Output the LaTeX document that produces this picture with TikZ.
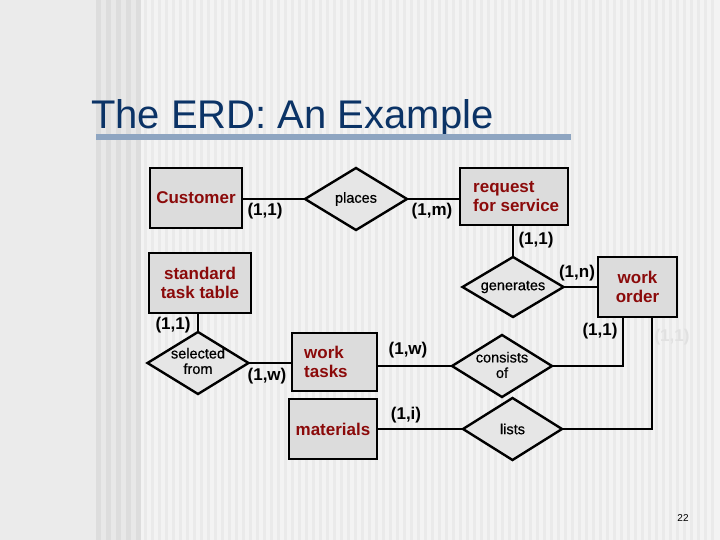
\documentclass[tikz,border=0pt]{standalone}
\usepackage{fontspec}
\setmainfont{Liberation Sans}
\newfontfamily\relfont{Liberation Sans}[FakeBold=0.6]
\usetikzlibrary{shapes.geometric}
\definecolor{bgleft}{HTML}{EBEBEB}
\definecolor{stripebase}{HTML}{F3F3F3}
\definecolor{stripefine}{HTML}{EAEAEA}
\definecolor{stripedark}{HTML}{DDDDDD}
\definecolor{stripemid}{HTML}{E8E8E8}
\definecolor{titleblue}{HTML}{0B3366}
\definecolor{titlebar}{HTML}{8EA5C1}
\definecolor{entfill}{HTML}{DCDCDC}
\definecolor{relfill}{HTML}{E6E6E6}
\definecolor{entred}{HTML}{8B0A0A}
\definecolor{ghost}{HTML}{E1E1E1}
\tikzset{
  entity/.style={draw=black, line width=2.4pt, fill=entfill, inner sep=0pt, outer sep=0pt,
    font=\fontsize{17}{19}\selectfont\bfseries, text=entred, align=center},
  entlabel/.style={font=\fontsize{17}{19}\selectfont\bfseries, text=entred, align=left, inner sep=0pt},
  rel/.style={diamond, draw=black, line width=2.4pt, fill=relfill, inner sep=0pt, outer sep=0pt},
  rellabel/.style={font=\relfont\fontsize{14.5}{15.5}\selectfont, align=center, inner sep=0pt},
  card/.style={font=\fontsize{17}{19}\selectfont\bfseries, inner sep=0pt},
  conn/.style={line width=2.4pt, line cap=rect}
}
\begin{document}
\begin{tikzpicture}[x=1pt,y=-1pt]
\useasboundingbox (0,0) rectangle (720,540);
% background
\fill[bgleft] (0,0) rectangle (720,540);
\fill[stripebase] (96,0) rectangle (720,540);
\fill[stripemid] (96,0) rectangle (141,540);
\foreach \x in {96,106,116,126,136} \fill[stripedark] (\x,0) rectangle ++(5,540);
\foreach \x in {144,151,...,716} \fill[stripefine] (\x,0) rectangle ++(3,540);
% title
\node[anchor=base west, inner sep=0pt, text=titleblue, font=\fontsize{40}{42}\selectfont] (title) at (91,129) {The ERD: An Example};
\fill[titlebar] (96,134) rectangle (571,140);
% entities
\node[entity, minimum width=92pt, minimum height=60pt] (cust) at (196,198) {Customer};
\node[entity, minimum width=108pt, minimum height=57pt,
  label={[entlabel, anchor=west, xshift=13pt]west:request\\for service}] (req) at (514,196.5) {};
\node[entity, minimum width=79pt, minimum height=60pt] (wo) at (637.5,287) {work\\order};
\node[entity, minimum width=102pt, minimum height=60pt] (std) at (200,283) {standard\\task table};
\node[entity, minimum width=85pt, minimum height=58pt,
  label={[entlabel, anchor=west, xshift=12pt]west:work\\tasks}] (wt) at (334.5,362) {};
\node[entity, minimum width=88pt, minimum height=60pt] (mat) at (333,429) {materials};
% relationships
\node[rel, minimum width=102pt, minimum height=62pt, label={[rellabel]center:places}] (places) at (356,199) {};
\node[rel, minimum width=101pt, minimum height=60pt, label={[rellabel]center:generates}] (gen) at (513,287) {};
\node[rel, minimum width=101pt, minimum height=62pt, label={[rellabel, yshift=2pt]center:selected\\from}] (sel) at (198,363) {};
\node[rel, minimum width=100pt, minimum height=62pt, label={[rellabel, yshift=1pt]center:consists\\of}] (cons) at (502,366) {};
\node[rel, minimum width=99pt, minimum height=62pt, label={[rellabel]center:lists}] (lists) at (512.5,429) {};
% connectors
\coordinate (wo1) at (623,317);
\coordinate (wo2) at (652,317);
\draw[conn] (places.west) -- (places.west -| cust.east);
\draw[conn] (places.east) -- (places.east -| req.west);
\draw[conn] (gen.north) -- (gen.north |- req.south);
\draw[conn] (gen.east) -- (gen.east -| wo.west);
\draw[conn] (wo1) |- (cons.east);
\draw[conn] (wo2) |- (lists.east);
\draw[conn] (sel.north) -- (sel.north |- std.south);
\draw[conn] (sel.east) -- (sel.east -| wt.west);
\draw[conn] (cons.west) -- (cons.west -| wt.east);
\draw[conn] (lists.west) -- (lists.west -| mat.east);
% cardinalities
\node[card] (c1) at (265,211) {(1,1)};
\node[card] (c2) at (432,211) {(1,m)};
\node[card] (c3) at (536,240) {(1,1)};
\node[card] (c4) at (577,273) {(1,n)};
\node[card] (c5) at (600,331) {(1,1)};
\node[card] (c6) at (173,325) {(1,1)};
\node[card] (c7) at (267,376) {(1,w)};
\node[card] (c8) at (408,350) {(1,w)};
\node[card] (c9) at (406,415) {(1,i)};
\node[card, text=ghost] (c10) at (672,337) {(1,1)};
% page number
\node[inner sep=0pt, font=\fontsize{10}{12}\selectfont] (pg) at (683,518) {22};
\end{tikzpicture}
\end{document}
